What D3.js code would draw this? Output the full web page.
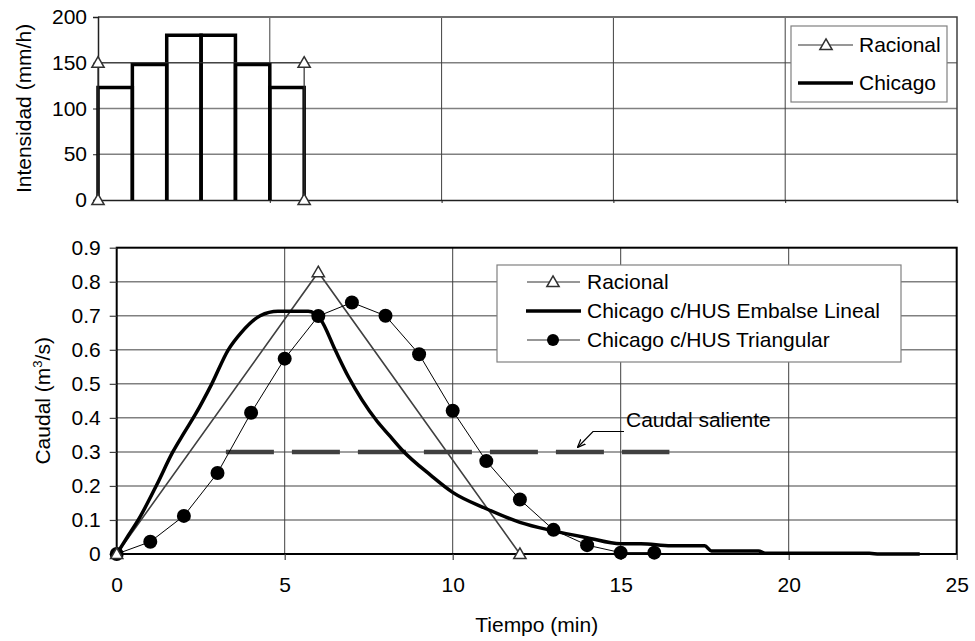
<!DOCTYPE html>
<html><head><meta charset="utf-8">
<script src="https://cdn.jsdelivr.net/npm/d3@7"></script>
<style>
body{margin:0;background:#fff;}
svg{display:block;font-family:"Liberation Sans",Arial,sans-serif;}
</style></head>
<body>
<svg id="c" width="975" height="641"></svg>
<script>
// ---- Data ----
// Top chart: rainfall intensity (mm/h)
const chicagoStart = [0, 1, 2, 3, 4, 5];          // bar start time (min)
const chicagoEnd   = [1, 2, 3, 4, 5, 6];          // bar end time (min)
const chicagoInt   = [123, 148, 180, 180, 148, 123];
const racRainT = [0, 0, 6, 6];
const racRainI = [0, 150, 150, 0];
const topYTicks = [0, 50, 100, 150, 200];

// Bottom chart: discharge (m3/s)
const racQT = [0, 6, 12];
const racQ  = [0, 0.828, 0];
const triT = [0,1,2,3,4,5,6,7,8,9,10,11,12,13,14,15,16];
const triQ = [0,0.036,0.112,0.238,0.415,0.574,0.699,0.739,0.70,0.587,0.421,0.273,0.16,0.071,0.026,0.004,0.004];
const linT = [0,0.35,0.7,1.2,1.67,2.0,2.34,2.83,3.32,3.7,4.27,4.8,5.7,6.07,6.5,6.9,7.3,7.75,8.1,8.5,9.35,10,11,12,13,14,15,15.6,16.5,17.5,17.7,19.1,19.3,22.4,22.7,23.9];
const linQ = [0,0.055,0.11,0.205,0.3,0.355,0.41,0.5,0.6,0.65,0.7,0.713,0.713,0.689,0.60,0.52,0.453,0.39,0.35,0.305,0.231,0.181,0.133,0.093,0.068,0.048,0.03,0.03,0.024,0.024,0.009,0.009,0.002,0.002,0,0];
const salT = [3.25, 16.45];
const salQ = [0.3, 0.3];
const botYTicks = [0,0.1,0.2,0.3,0.4,0.5,0.6,0.7,0.8,0.9];
const xTicks = [0,5,10,15,20,25];

const FS = 21;
const svg = d3.select("#c");

// ---- Top chart ----
const xT = d3.scaleLinear([0,25],[98,957]);
const yT = d3.scaleLinear([0,200],[200,17]);
const gT = svg.append("g");
gT.selectAll(".hg").data([50,100,150]).join("line")
  .attr("x1",xT(0)).attr("x2",xT(25)).attr("y1",d=>yT(d)).attr("y2",d=>yT(d))
  .attr("stroke","#808080").attr("stroke-width",1.5);
gT.selectAll(".vg").data([5,10,15,20]).join("line")
  .attr("x1",d=>xT(d)).attr("x2",d=>xT(d)).attr("y1",yT(0)).attr("y2",yT(200)+1)
  .attr("stroke","#404040").attr("stroke-width",1);
gT.append("path").attr("d",`M${xT(0)},${yT(200)}H${xT(25)}V${yT(0)}`)
  .attr("fill","none").attr("stroke","#404040").attr("stroke-width",1.5);
const axLT = d3.axisLeft(yT).tickValues(topYTicks).tickSize(5).tickPadding(6);
gT.append("g").attr("transform",`translate(${xT(0)},0)`).call(axLT)
  .call(g=>{g.select(".domain").attr("stroke","#202020").attr("stroke-width",1.5);
    g.selectAll(".tick line").attr("stroke","#202020");
    g.selectAll("text").attr("font-size",FS).attr("font-family","Liberation Sans, Arial").attr("fill","#000");});
const axBT = d3.axisBottom(xT).tickValues(xTicks).tickSize(3).tickFormat("");
gT.append("g").attr("transform",`translate(0,${yT(0)})`).call(axBT)
  .call(g=>{g.select(".domain").attr("stroke","#202020").attr("stroke-width",1.5);
    g.selectAll(".tick line").attr("stroke","#202020");});
// bars (Chicago) as open outlines: left side, top, right side
gT.selectAll(".bar").data(chicagoInt).join("path")
  .attr("d",(d,i)=>`M${xT(chicagoStart[i])},${yT(0)}V${yT(d)}H${xT(chicagoEnd[i])}V${yT(0)}`)
  .attr("fill","none").attr("stroke","#000").attr("stroke-width",3.5).attr("stroke-linejoin","miter");
// Racional
const racRain = racRainT.map((t,i)=>[t,racRainI[i]]);
gT.append("path").datum(racRain).attr("d",d3.line().x(d=>xT(d[0])).y(d=>yT(d[1])))
  .attr("fill","none").attr("stroke","#303030").attr("stroke-width",1.2);
const tri = d3.symbol().type(d3.symbolTriangle).size(65);
gT.selectAll(".rm").data(racRain).join("path").attr("d",tri)
  .attr("transform",d=>`translate(${xT(d[0])},${yT(d[1])+1})`)
  .attr("fill","#fff").attr("stroke","#303030").attr("stroke-width",1.5);
svg.append("text").attr("transform",`translate(31,${(yT(0)+yT(200))/2}) rotate(-90)`)
  .attr("text-anchor","middle").attr("font-size",FS).text("Intensidad (mm/h)");
// legend top
const lgT = svg.append("g");
lgT.append("rect").attr("x",791).attr("y",26).attr("width",156).attr("height",76)
  .attr("fill","#fff").attr("stroke","#808080").attr("stroke-width",1.2);
lgT.append("line").attr("x1",798).attr("x2",853).attr("y1",45).attr("y2",45).attr("stroke","#303030").attr("stroke-width",1.2);
lgT.append("path").attr("d",tri).attr("transform","translate(826,46)").attr("fill","#fff").attr("stroke","#303030").attr("stroke-width",1.5);
lgT.append("line").attr("x1",798).attr("x2",853).attr("y1",83).attr("y2",83).attr("stroke","#000").attr("stroke-width",3.5);
lgT.append("text").attr("x",859).attr("y",45).attr("dy","0.35em").attr("font-size",FS).text("Racional");
lgT.append("text").attr("x",859).attr("y",83).attr("dy","0.35em").attr("font-size",FS).text("Chicago");

// ---- Bottom chart ----
const xB = d3.scaleLinear([0,25],[116.7,956.7]);
const yB = d3.scaleLinear([0,0.9],[554,247.7]);
const gB = svg.append("g");
gB.selectAll(".hg").data(botYTicks.slice(1,-1)).join("line")
  .attr("x1",xB(0)).attr("x2",xB(25)).attr("y1",d=>yB(d)).attr("y2",d=>yB(d))
  .attr("stroke","#808080").attr("stroke-width",1.5);
gB.selectAll(".vg").data([5,10,15,20]).join("line")
  .attr("x1",d=>xB(d)).attr("x2",d=>xB(d)).attr("y1",yB(0)).attr("y2",yB(0.9))
  .attr("stroke","#404040").attr("stroke-width",1);
gB.append("rect").attr("x",xB(0)).attr("y",yB(0.9)).attr("width",xB(25)-xB(0)).attr("height",yB(0)-yB(0.9))
  .attr("fill","none").attr("stroke","#000").attr("stroke-width",2);
const axLB = d3.axisLeft(yB).tickValues(botYTicks).tickSize(7).tickPadding(9)
  .tickFormat(d=>d===0?"0":d3.format(".1f")(d));
gB.append("g").attr("transform",`translate(${xB(0)},0)`).call(axLB)
  .call(g=>{g.select(".domain").remove();
    g.selectAll(".tick line").attr("stroke","#404040").attr("stroke-width",1.2);
    g.selectAll("text").attr("font-size",FS).attr("font-family","Liberation Sans, Arial").attr("fill","#000");});
const axBB = d3.axisBottom(xB).tickValues(xTicks).tickSize(6).tickPadding(17);
gB.append("g").attr("transform",`translate(0,${yB(0)})`).call(axBB)
  .call(g=>{g.select(".domain").remove();
    g.selectAll(".tick line").attr("stroke","#404040").attr("stroke-width",1.2);
    g.selectAll("text").attr("font-size",FS).attr("font-family","Liberation Sans, Arial").attr("fill","#000");});

const sal = salT.map((t,i)=>[t,salQ[i]]);
gB.append("path").datum(sal).attr("d",d3.line().x(d=>xB(d[0])).y(d=>yB(d[1])))
  .attr("stroke","#404040").attr("stroke-width",4.5).attr("stroke-dasharray","48 18").attr("fill","none");

const racQd = racQT.map((t,i)=>[t,racQ[i]]);
gB.append("path").datum(racQd).attr("d",d3.line().x(d=>xB(d[0])).y(d=>yB(d[1])))
  .attr("fill","none").attr("stroke","#404040").attr("stroke-width",1.6);
const triD = triT.map((t,i)=>[t,triQ[i]]);
gB.append("path").datum(triD).attr("d",d3.line().x(d=>xB(d[0])).y(d=>yB(d[1])))
  .attr("fill","none").attr("stroke","#000").attr("stroke-width",1);
const linD = linT.map((t,i)=>[t,linQ[i]]);
gB.append("path").datum(linD).attr("d",d3.line().curve(d3.curveMonotoneX).x(d=>xB(d[0])).y(d=>yB(d[1])))
  .attr("fill","none").attr("stroke","#000").attr("stroke-width",3.5).attr("stroke-linejoin","round");
gB.selectAll(".dot").data(triD).join("circle")
  .attr("cx",d=>xB(d[0])).attr("cy",d=>yB(d[1])).attr("r",7).attr("fill","#000");
gB.selectAll(".rm").data(racQd).join("path").attr("d",tri)
  .attr("transform",d=>`translate(${xB(d[0])},${yB(d[1])+1})`)
  .attr("fill","#fff").attr("stroke","#303030").attr("stroke-width",1.5);

// annotation
svg.append("text").attr("x",626).attr("y",420).attr("dy","0.35em").attr("font-size",FS).text("Caudal saliente");
svg.append("defs").append("marker").attr("id","ah").attr("viewBox","0 0 10 10").attr("refX",9).attr("refY",5)
  .attr("markerWidth",7).attr("markerHeight",7).attr("orient","auto-start-reverse")
  .append("path").attr("d","M0,1 L10,5 L0,9").attr("fill","none").attr("stroke","#000").attr("stroke-width",1.5);
svg.append("path").attr("d","M624,431.5 H593 L578,447").attr("fill","none").attr("stroke","#000").attr("stroke-width",1.2)
  .attr("marker-end","url(#ah)");

const yl = svg.append("text").attr("transform",`translate(50,${(yB(0)+yB(0.9))/2}) rotate(-90)`)
  .attr("text-anchor","middle").attr("font-size",FS);
yl.append("tspan").text("Caudal (m");
yl.append("tspan").attr("font-size",13).attr("dy",-8).text("3");
yl.append("tspan").attr("dy",8).text("/s)");
svg.append("text").attr("x",(xB(0)+xB(25))/2).attr("y",632).attr("text-anchor","middle").attr("font-size",FS).text("Tiempo (min)");

// legend bottom
const lgB = svg.append("g");
lgB.append("rect").attr("x",497).attr("y",265).attr("width",404).attr("height",97)
  .attr("fill","#fff").attr("stroke","#808080").attr("stroke-width",1.2);
const rows = [282,311,340];
lgB.append("line").attr("x1",527).attr("x2",580).attr("y1",rows[0]).attr("y2",rows[0]).attr("stroke","#303030").attr("stroke-width",1.2);
lgB.append("path").attr("d",tri).attr("transform",`translate(553,${rows[0]+1})`).attr("fill","#fff").attr("stroke","#303030").attr("stroke-width",1.5);
lgB.append("line").attr("x1",526).attr("x2",581).attr("y1",rows[1]).attr("y2",rows[1]).attr("stroke","#000").attr("stroke-width",3.5);
lgB.append("line").attr("x1",527).attr("x2",580).attr("y1",rows[2]).attr("y2",rows[2]).attr("stroke","#303030").attr("stroke-width",1.2);
lgB.append("circle").attr("cx",553).attr("cy",rows[2]).attr("r",6).attr("fill","#000");
const labs = ["Racional","Chicago c/HUS Embalse Lineal","Chicago c/HUS Triangular"];
lgB.selectAll(".lt").data(labs).join("text").attr("x",587).attr("y",(d,i)=>rows[i]).attr("dy","0.35em")
  .attr("font-size",FS).text(d=>d);
</script>
</body></html>
